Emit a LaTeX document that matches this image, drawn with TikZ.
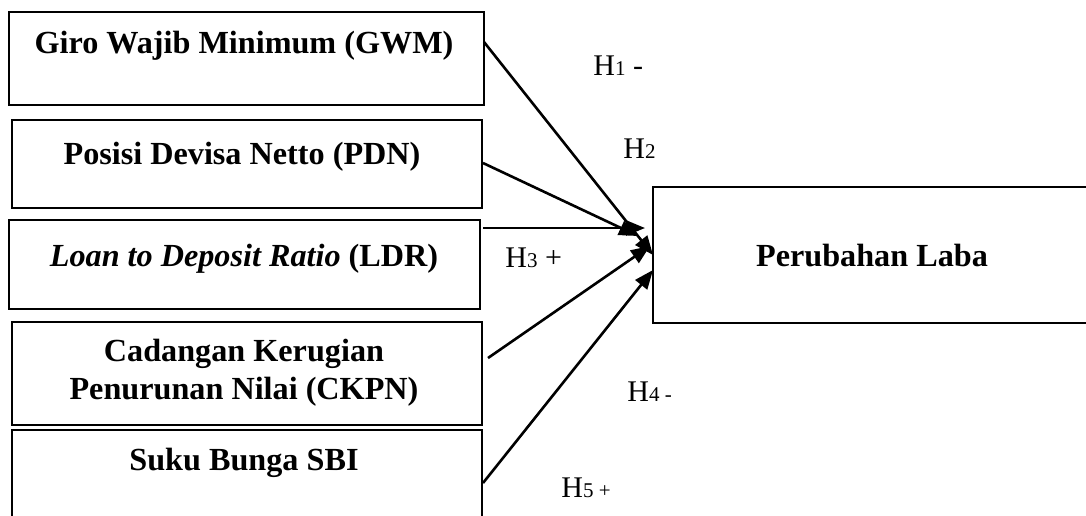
\documentclass[tikz,border=0pt]{standalone}
\usepackage{fontspec}
\setmainfont{Liberation Serif}
\usetikzlibrary{arrows.meta}
\begin{document}
\begin{tikzpicture}[x=0.5pt,y=-0.5pt,
  box/.style={draw,line width=1pt,inner sep=0pt,outer sep=0pt,anchor=north west},
  lbl/.style={font=\fontsize{16.1}{19}\bfseries\selectfont,anchor=base,align=center,inner sep=0pt},
  hyp/.style={font=\fontsize{15}{18}\selectfont,anchor=base west,inner sep=0pt},
  arr/.style={line width=1.3pt,-{Triangle[length=9.5pt,width=7.5pt]}}]
\newcommand{\sm}[1]{{\fontsize{10.5}{12}\selectfont #1}}
\useasboundingbox (0,0) rectangle (1086,515);
% boxes
\node[box,minimum width=237.5pt,minimum height=46.5pt] (gwm) at (9,12) {};
\node[box,minimum width=235pt,minimum height=44pt] (pdn) at (12,120) {};
\node[box,minimum width=235.5pt,minimum height=44.5pt] (ldr) at (9,220) {};
\node[box,minimum width=235pt,minimum height=51.5pt] (ckpn) at (12,322) {};
\node[box,minimum width=235pt,minimum height=46pt] (sbi) at (12,430) {};
\node[box,minimum width=218.5pt,minimum height=68pt] (pl) at (653,187) {};
% texts
\node[lbl] (tgwm) at (244,53) {Giro Wajib Minimum (GWM)};
\node[lbl] (tpdn) at (242,164) {Posisi Devisa Netto (PDN)};
\node[lbl] (tldr) at (244,266) {\textit{Loan to Deposit Ratio} (LDR)};
\node[lbl] (tckpn1) at (244,361) {Cadangan Kerugian};
\node[lbl] (tckpn2) at (244,399) {Penurunan Nilai (CKPN)};
\node[lbl] (tsbi) at (244,470) {Suku Bunga SBI};
\node[lbl] (tpl) at (872,266) {Perubahan Laba};
% hypotheses
\node[hyp] (h1) at (593,75) {H\sm{1} -};
\node[hyp] (h2) at (623,158) {H\sm{2}};
\node[hyp] (h3) at (505,267) {H\sm{3} +};
\node[hyp] (h4) at (627,401) {H\sm{4 -}};
\node[hyp] (h5) at (561,497) {H\sm{5 +}};
% arrows
\draw[arr] ([yshift=-15pt]gwm.north east) -- ([yshift=-34pt]pl.north west);
\draw[arr] ([xshift=0.5pt,yshift=-21.5pt]pdn.north east) -- ([xshift=-7.5pt,yshift=-24.5pt]pl.north west);
\draw[arr] ([xshift=1.5pt,yshift=-4pt]ldr.north east) -- ([xshift=-4pt,yshift=-20.5pt]pl.north west);
\draw[arr] ([xshift=3pt,yshift=-18pt]ckpn.north east) -- ([xshift=-1.5pt,yshift=-29.5pt]pl.north west);
\draw[arr] ([xshift=0.5pt,yshift=-26.5pt]sbi.north east) -- ([yshift=-41.5pt]pl.north west);
\end{tikzpicture}
\end{document}
